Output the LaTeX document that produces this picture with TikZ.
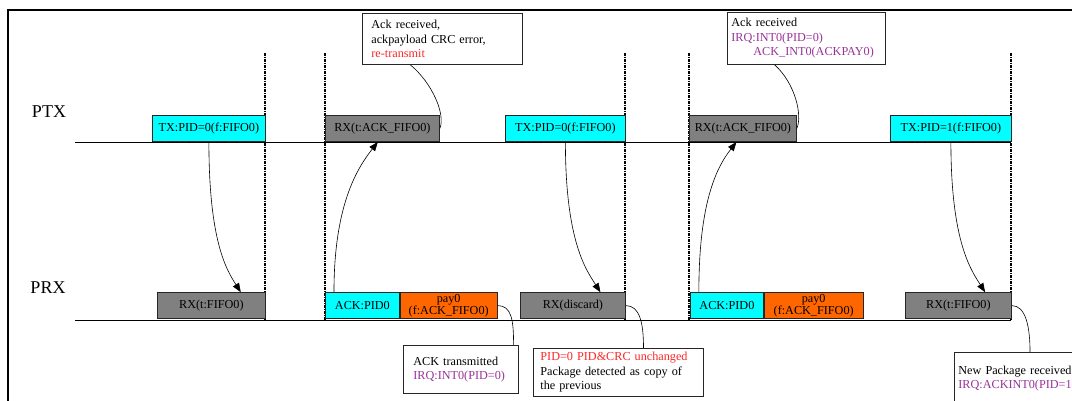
\documentclass[tikz,border=0pt]{standalone}
\usepackage{fontspec}
\setmainfont{Liberation Serif}
\usetikzlibrary{arrows.meta, calc}
\definecolor{slotcyan}{RGB}{0,255,255}
\definecolor{payorange}{RGB}{255,102,0}
\definecolor{slotgray}{RGB}{128,128,128}
\definecolor{irqpurple}{RGB}{153,51,153}
\definecolor{errred}{RGB}{250,40,40}
\newcommand{\slotfont}{\fontsize{12.2pt}{12.5pt}\selectfont}
\newcommand{\notefont}{\fontsize{12.2pt}{14.5pt}\selectfont}
\tikzset{
  slot/.style={rectangle, draw=black!85, line width=0.8pt, minimum height=26pt, inner sep=0pt, anchor=south west, font=\slotfont},
  txslot/.style={slot, fill=slotcyan},
  rxslot/.style={slot, fill=slotgray},
  payslot/.style={slot, fill=payorange, align=center},
  note/.style={rectangle, draw=black!85, line width=0.8pt, fill=white, anchor=north west, align=left, inner ysep=0pt, font=\notefont},
  flow/.style={-{Triangle[length=9pt,width=7pt]}, line width=0.6pt},
  pointer/.style={line width=0.6pt},
  guard/.style={line width=1.3pt, dash pattern=on 3pt off 1pt on 1pt off 1pt},
  timeline/.style={line width=0.8pt},
  frame/.style={line width=2pt}
}

\begin{document}
\begin{tikzpicture}[x=1pt, y=-1pt]

    \useasboundingbox (0,0) rectangle (1072,401);

    % Marco exterior
    \draw[frame] (8,410) -- (8,10) -- (1080,10);

    % Etiquetas de las lineas
    \node[font=\fontsize{18pt}{20pt}\selectfont] (ptxlabel) at (49,112) {PTX};
    \node[font=\fontsize{18pt}{20pt}\selectfont] (prxlabel) at (48,288) {PRX};

    % Lineas de tiempo
    \draw[timeline] (75,142) -- (1011,142);
    \draw[timeline] (75,320) -- (1011,320);

    % Limites de ventana
    \foreach \x in {265, 325, 625, 689, 1011} {
        \draw[guard] (\x,53) -- (\x,320);
    }

    % Ranuras PTX
    \node[txslot, minimum width=113pt] (tx1) at (152,142) {TX:PID=0(f:FIFO0)};
    \node[rxslot, minimum width=114pt] (rxa1) at (325,142) {RX(t:ACK\_FIFO0)};
    \node[txslot, minimum width=120pt] (tx2) at (505,142) {TX:PID=0(f:FIFO0)};
    \node[rxslot, minimum width=107pt] (rxa2) at (689,142) {RX(t:ACK\_FIFO0)};
    \node[txslot, minimum width=121pt] (tx3) at (890,142) {TX:PID=1(f:FIFO0)};

    % Ranuras PRX
    \node[rxslot, minimum width=108pt] (rx1) at (157,319) {RX(t:FIFO0)};
    \node[txslot, minimum width=74pt] (ack1) at (325,319) {ACK:PID0};
    \node[payslot, minimum width=97pt] (pay1) at (ack1.south east) {pay0\\(f:ACK\_FIFO0)};
    \node[rxslot, minimum width=105pt] (rxd) at (520,319) {RX(discard)};
    \node[txslot, minimum width=73pt] (ack2) at (690,319) {ACK:PID0};
    \node[payslot, minimum width=99pt] (pay2) at (ack2.south east) {pay0\\(f:ACK\_FIFO0)};
    \node[rxslot, minimum width=106pt] (rx2) at (905,319) {RX(t:FIFO0)};

    % Notas
    \node[note, text width=142pt, inner xsep=9pt, minimum height=51pt] (noteretx) at (362,13)
        {Ack received,\\ackpayload CRC error,\\\textcolor{errred}{re-transmit}};
    \node[note, text width=150pt, inner xsep=4pt, minimum height=52pt] (noteackrx) at (727,12)
        {Ack received\\\textcolor{irqpurple}{IRQ:INT0(PID=0)}\\\hspace*{22pt}\textcolor{irqpurple}{ACK\_INT0(ACKPAY0)}};
    \node[note, text width=95pt, inner xsep=10pt, minimum height=48pt] (noteacktx) at (403,345)
        {ACK transmitted\\\textcolor{irqpurple}{IRQ:INT0(PID=0)}};
    \node[note, text width=156pt, inner xsep=7pt, minimum height=48pt] (notecopy) at (533,348)
        {\textcolor{errred}{PID=0 PID\&CRC unchanged}\\Package detected as copy of\\the previous};
    \node[note, text width=132pt, inner xsep=4pt, minimum height=52pt] (notenew) at (954,352)
        {New Package received\\\textcolor{irqpurple}{IRQ:ACKINT0(PID=1)}};

    % Flechas entre ranuras
    \draw[flow] (tx1.south) .. controls +(0,100) and +(-14,-22) .. ($(rx1.north west)!0.77!(rx1.north east)$);
    \draw[flow] ($(ack1.north west)!0.12!(ack1.north east)$) .. controls +(0,-85) and +(-22,28) .. ($(rxa1.south west)!0.46!(rxa1.south east)$);
    \draw[flow] (tx2.south) .. controls +(0,100) and +(-14,-22) .. ($(rxd.north west)!0.76!(rxd.north east)$);
    \draw[flow] ($(ack2.north west)!0.12!(ack2.north east)$) .. controls +(0,-85) and +(-22,28) .. ($(rxa2.south west)!0.44!(rxa2.south east)$);
    \draw[flow] (tx3.south) .. controls +(0,100) and +(-14,-22) .. ($(rx2.north west)!0.75!(rx2.north east)$);

    % Conectores de las notas
    \draw[pointer] ($(noteretx.south west)!0.3!(noteretx.south east)$) .. controls +(22,18) and +(6,-14) .. (rxa1.east);
    \draw[pointer] ($(noteackrx.south west)!0.3!(noteackrx.south east)$) .. controls +(20,18) and +(6,-14) .. (rxa2.east);
    \draw[pointer] (pay1.east) .. controls +(14,0) and +(0,-25) .. ($(noteacktx.north west)!0.955!(noteacktx.north east)$);
    \draw[pointer] (rxd.east) .. controls +(14,0) and +(0,-25) .. ($(notecopy.north west)!0.647!(notecopy.north east)$);
    \draw[pointer] (rx2.east) .. controls +(14,0) and +(0,-25) .. ($(notenew.north west)!0.54!(notenew.north east)$);

\end{tikzpicture}
\end{document}
